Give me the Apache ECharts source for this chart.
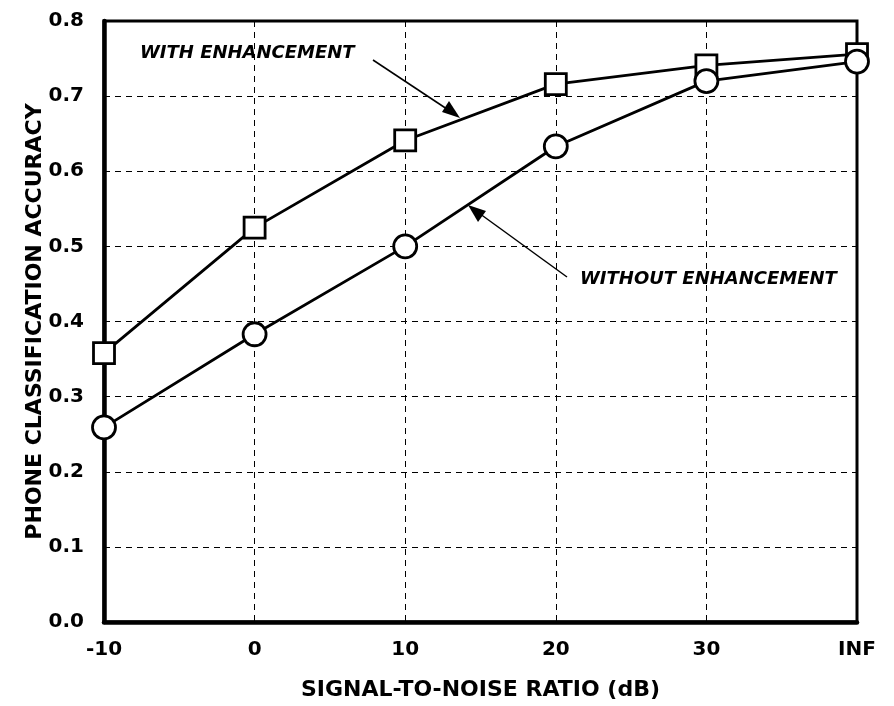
<!DOCTYPE html>
<html>
<head>
<meta charset="utf-8">
<script src="https://cdn.jsdelivr.net/npm/echarts@6/dist/echarts.min.js"></script>
<style>
  html, body { margin: 0; padding: 0; background: #fff; }
  #chart { width: 894px; height: 706px; }
</style>
</head>
<body>
<div id="chart"></div>
<script>
// 横轴：信噪比 (dB)
const snrLabels = ['-10', '0', '10', '20', '30', 'INF']
// 两条曲线
const withEnh = [0.358, 0.525, 0.641, 0.716, 0.741, 0.756]
const withoutEnh = [0.259, 0.383, 0.500, 0.633, 0.720, 0.746]

const font = '"DejaVu Sans", "Liberation Sans", Arial, sans-serif'

const chart = echarts.init(document.getElementById('chart'))

const markerStyle = { color: '#fff', borderColor: '#000', borderWidth: 2.8 }

chart.setOption({
  animation: false,
  grid: {
    left: 104, right: 37, top: 21, bottom: 84,
    show: true, borderColor: '#000', borderWidth: 3, backgroundColor: 'transparent'
  },
  xAxis: {
    type: 'category',
    data: snrLabels,
    boundaryGap: false,
    name: 'SIGNAL-TO-NOISE RATIO (dB)',
    nameLocation: 'middle',
    nameGap: 57,
    nameMoveOverlap: false,
    nameTextStyle: { fontFamily: font, fontWeight: 'bold', fontSize: 22, color: '#000' },
    axisLine: { lineStyle: { color: '#000', width: 4.5 } },
    axisTick: { show: false },
    axisLabel: { fontFamily: font, fontWeight: 'bold', fontSize: 20, color: '#000', margin: 18 },
    splitLine: { show: true, lineStyle: { color: '#000', width: 1, type: [6, 5] } }
  },
  yAxis: {
    type: 'value',
    min: 0, max: 0.8, interval: 0.1,
    name: 'PHONE CLASSIFICATION ACCURACY',
    nameLocation: 'middle',
    nameGap: 58,
    nameMoveOverlap: false,
    nameTextStyle: { fontFamily: font, fontWeight: 'bold', fontSize: 22, color: '#000' },
    axisLine: { show: true, lineStyle: { color: '#000', width: 4.5 } },
    axisTick: { show: false },
    axisLabel: {
      fontFamily: font, fontWeight: 'bold', fontSize: 20, color: '#000', margin: 20,
      formatter: v => v.toFixed(1)
    },
    splitLine: { show: true, lineStyle: { color: '#000', width: 1, type: [6, 5] } }
  },
  series: [
    {
      name: 'WITH ENHANCEMENT',
      type: 'line',
      data: withEnh,
      symbol: 'rect',
      symbolSize: 21,
      lineStyle: { color: '#000', width: 2.8 },
      itemStyle: markerStyle,
      z: 3
    },
    {
      name: 'WITHOUT ENHANCEMENT',
      type: 'line',
      data: withoutEnh,
      symbol: 'circle',
      symbolSize: 23,
      lineStyle: { color: '#000', width: 2.8 },
      itemStyle: markerStyle,
      z: 4
    }
  ],
  graphic: [
    {
      type: 'text', left: 140, top: 44,
      style: { text: 'WITH ENHANCEMENT', font: 'italic bold 18px ' + font, fill: '#000' }
    },
    {
      type: 'line', shape: { x1: 373, y1: 60, x2: 456, y2: 115 },
      style: { stroke: '#000', lineWidth: 1.5 }
    },
    {
      type: 'polygon', shape: { points: [[460, 118], [442, 112], [449, 101]] },
      style: { fill: '#000' }
    },
    {
      type: 'text', left: 580, top: 270,
      style: { text: 'WITHOUT ENHANCEMENT', font: 'italic bold 18px ' + font, fill: '#000' }
    },
    {
      type: 'line', shape: { x1: 567, y1: 277, x2: 472, y2: 208 },
      style: { stroke: '#000', lineWidth: 1.5 }
    },
    {
      type: 'polygon', shape: { points: [[468, 205], [486, 211], [478, 222]] },
      style: { fill: '#000' }
    }
  ]
})
</script>
</body>
</html>
